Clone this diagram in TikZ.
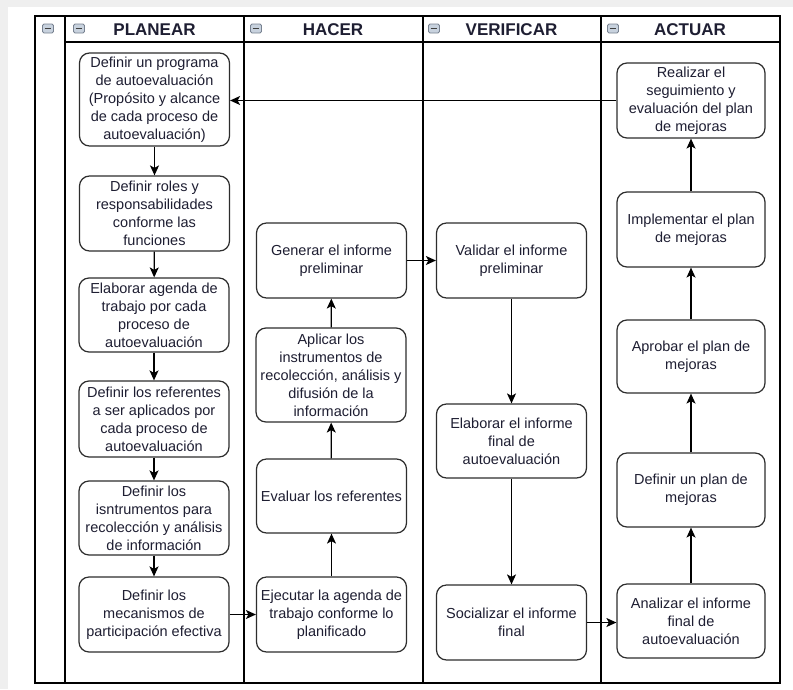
\documentclass[tikz,border=0pt]{standalone}
\usepackage{fontspec}
\setmainfont{Liberation Sans}
\usetikzlibrary{arrows.meta}
\definecolor{txt}{RGB}{30,30,50}
\definecolor{bord}{RGB}{45,45,45}
\definecolor{bg}{RGB}{239,239,239}
\definecolor{iconfill}{RGB}{200,210,222}
\definecolor{iconbord}{RGB}{120,130,145}
\tikzset{
  stepbox/.style={draw=bord, line width=1.2pt, rounded corners=10pt, fill=white,
    minimum width=150pt, minimum height=75pt, inner sep=0pt, align=center,
    text=txt, font=\fontsize{14.5}{18}\selectfont},
  conn/.style={draw=black, line width=1.3pt, -{Stealth[length=10pt,width=9pt,inset=2.5pt]}},
  lane/.style={draw=black, line width=1.5pt},
  hdr/.style={text=txt, font=\fontsize{17}{20}\selectfont\bfseries, inner sep=0pt},
  minus/.style={draw=iconbord, line width=0.8pt, fill=iconfill, rounded corners=1.5pt,
    minimum width=11pt, minimum height=9pt, inner sep=0pt}
}
\begin{document}
\begin{tikzpicture}[x=1pt,y=-1pt]
\useasboundingbox (0,0) rectangle (793,689);
\fill[bg] (0,0) rectangle (793,689);
\fill[white] (8,7) rectangle (793,689);
% lanes
\draw[lane] (35,16) rectangle (780,683);
\draw[lane] (65,16) -- (65,683);
\draw[lane] (244,16) -- (244,683);
\draw[lane] (423,16) -- (423,683);
\draw[lane] (601,16) -- (601,683);
\draw[lane] (65,42) -- (780,42);
% icons
\foreach \ix/\nm in {48/i0,79/i1,256/i2,434/i3,613/i4}{
  \node[minus] (\nm) at (\ix,28.5) {};
  \draw[black!75, line width=1pt] ([xshift=2.5pt]\nm.west) -- ([xshift=-2.5pt]\nm.east);
}
% headers
\node[hdr] (hp) at (154.5,29.5) {PLANEAR};
\node[hdr] (hh) at (333,29.5) {HACER};
\node[hdr] (hv) at (511.5,29.5) {VERIFICAR};
\node[hdr] (ha) at (690,29.5) {ACTUAR};
% PLANEAR
\node[stepbox, minimum height=93pt] (p1) at (154.5,99.5) {Definir un programa\\de autoevaluación\\(Propósito y alcance\\de cada proceso de\\autoevaluación)};
\node[stepbox] (p2) at (154.5,213.5) {Definir roles y\\responsabilidades\\conforme las\\funciones};
\node[stepbox, minimum height=74pt] (p3) at (154,315) {Elaborar agenda de\\trabajo por cada\\proceso de\\autoevaluación};
\node[stepbox, minimum height=76pt] (p4) at (154,419) {Definir los referentes\\a ser aplicados por\\cada proceso de\\autoevaluación};
\node[stepbox, minimum height=74pt] (p5) at (154,518) {Definir los\\isntrumentos para\\recolección y análisis\\de información};
\node[stepbox] (p6) at (154,614.5) {Definir los\\mecanismos de\\participación efectiva};
% HACER
\node[stepbox] (h1) at (331.5,260.5) {Generar el informe\\preliminar};
\node[stepbox, minimum height=94pt] (h2) at (331,375) {Aplicar los\\instrumentos de\\recolección, análisis y\\difusión de la\\información};
\node[stepbox, minimum height=74pt] (h3) at (331.5,496) {Evaluar los referentes};
\node[stepbox] (h4) at (331.5,614.5) {Ejecutar la agenda de\\trabajo conforme lo\\planificado};
% VERIFICAR
\node[stepbox] (v1) at (511.5,260.5) {Validar el informe\\preliminar};
\node[stepbox, minimum height=74pt] (v2) at (511.5,441) {Elaborar el informe\\final de\\autoevaluación};
\node[stepbox] (v3) at (511.5,622.5) {Socializar el informe\\final};
% ACTUAR
\node[stepbox, minimum width=148pt] (a1) at (691,100.5) {Realizar el\\seguimiento y\\evaluación del plan\\de mejoras};
\node[stepbox, minimum width=148pt] (a2) at (691,229.5) {Implementar el plan\\de mejoras};
\node[stepbox, minimum width=148pt, minimum height=73pt] (a3) at (691,356.5) {Aprobar el plan de\\mejoras};
\node[stepbox, minimum width=148pt, minimum height=74pt] (a4) at (691,490) {Definir un plan de\\mejoras};
\node[stepbox, minimum width=148pt, minimum height=74pt] (a5) at (691,621) {Analizar el informe\\final de\\autoevaluación};
% connectors
\draw[conn] (p1) -- (p2);
\draw[conn] (p2) -- (p3);
\draw[conn] (p3) -- (p4);
\draw[conn] (p4) -- (p5);
\draw[conn] (p5) -- (p6);
\draw[conn] (p6) -- (h4);
\draw[conn] (h4) -- (h3);
\draw[conn] (h3) -- (h2);
\draw[conn] (h2) -- (h1);
\draw[conn] (h1) -- (v1);
\draw[conn] (v1) -- (v2);
\draw[conn] (v2) -- (v3);
\draw[conn] (v3) -- (v3 -| a5.west);
\draw[conn] (a5) -- (a4);
\draw[conn] (a4) -- (a3);
\draw[conn] (a3) -- (a2);
\draw[conn] (a2) -- (a1);
\draw[conn] (a1) -- (a1 -| p1.east);
\end{tikzpicture}
\end{document}
